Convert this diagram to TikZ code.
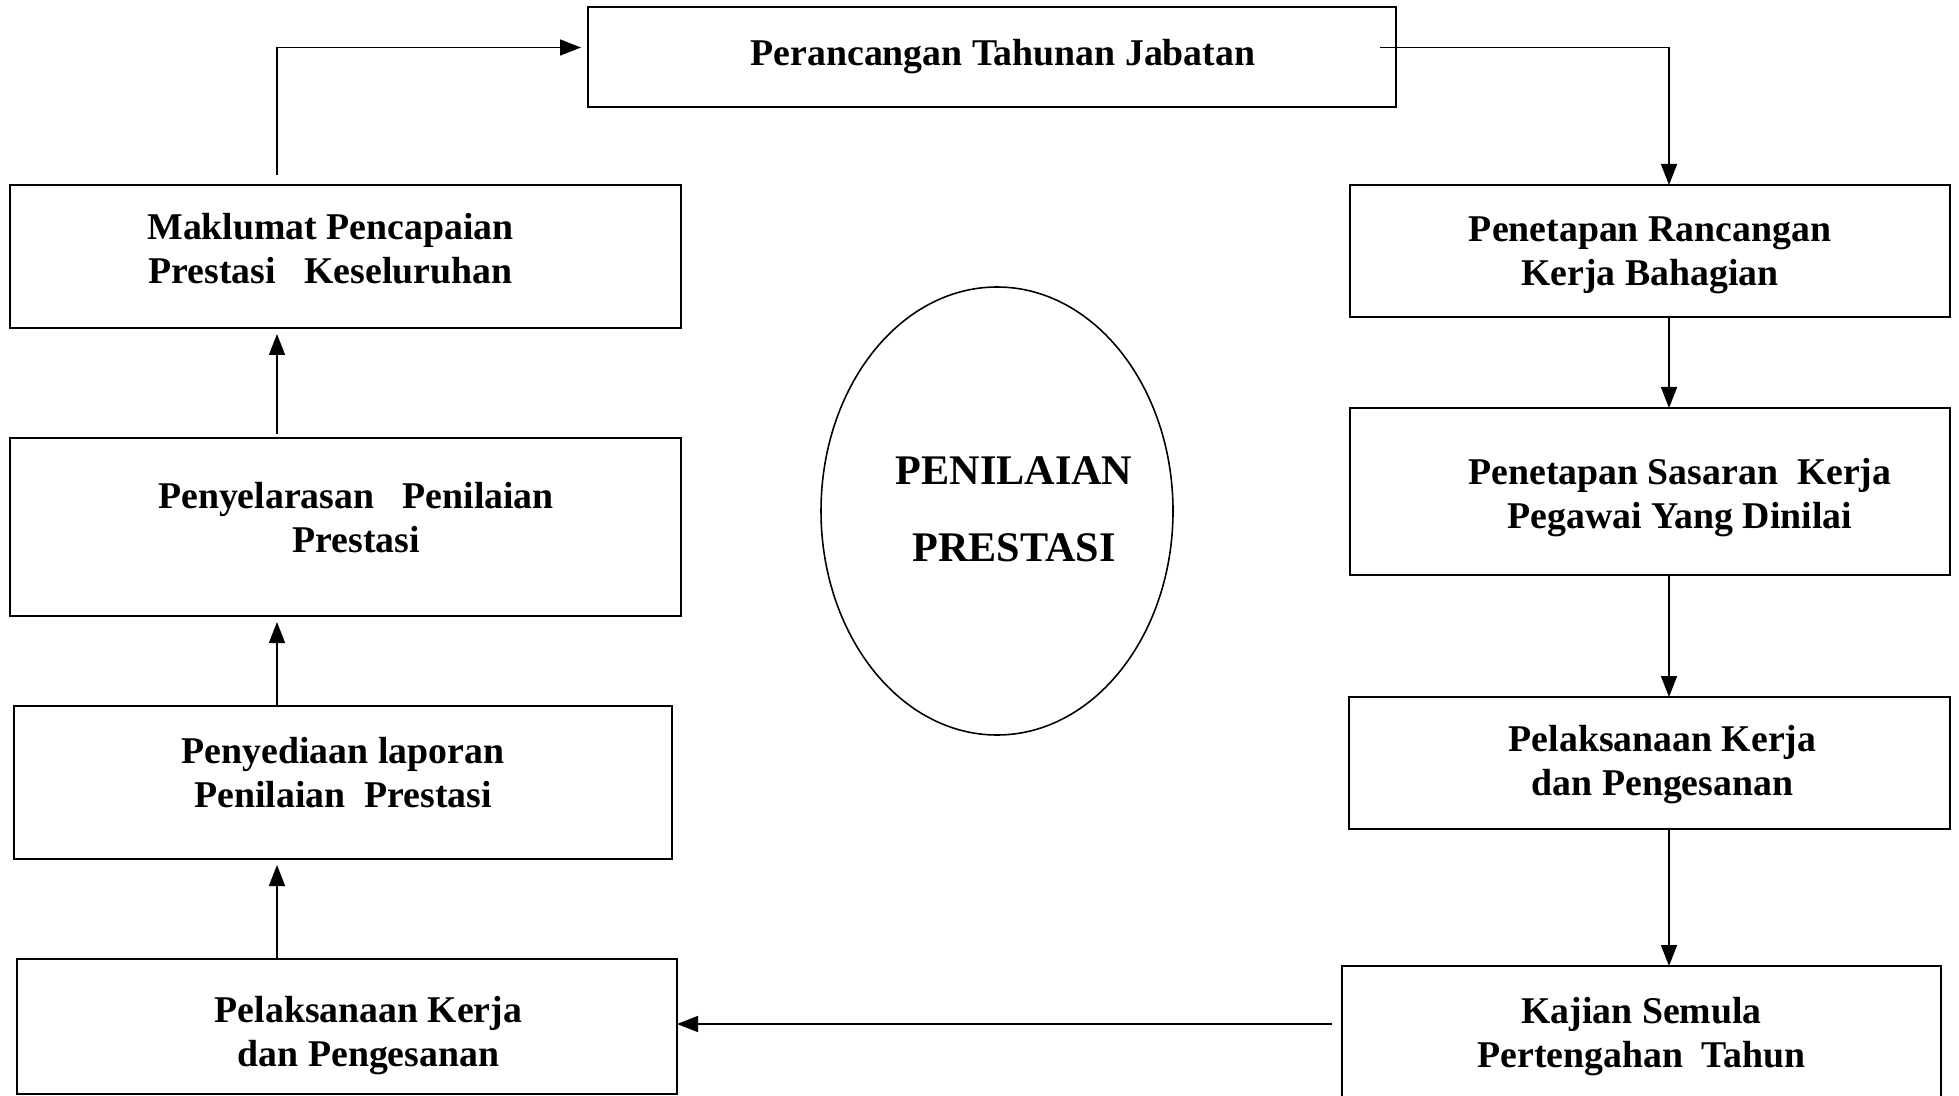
\documentclass[tikz,border=0pt]{standalone}
\usepackage{fontspec}
\setmainfont{Liberation Serif}
\usetikzlibrary{arrows.meta,positioning,shapes.geometric,calc}
\tikzset{
	kotak/.style={draw, line width=1.1pt, outer sep=0, inner sep=0,
		font=\fontsize{21.5}{25}\selectfont\bfseries},
	bulat/.style={draw, ellipse, line width=0.9pt, outer sep=0, inner sep=0,
		font=\fontsize{24}{44}\selectfont\bfseries}
}

\begin{document}
\begin{tikzpicture}[->,>={Triangle[length=0.42cm,width=0.32cm]}, line width=0.9pt]
	\useasboundingbox (0,0) rectangle (39.18,-21.92);
	\node[kotak, line width=1.5pt, minimum width=16.16cm, minimum height=2cm] (tahunan) at (19.84, -1.14) {\begin{tabular}{@{\hspace{0.44cm}}c@{}}
			Perancangan Tahunan Jabatan
	\end{tabular}};
	% lajur kiri
	\node[kotak, minimum width=13.42cm, minimum height=2.86cm] (maklumat) at (6.91, -5.13) {\begin{tabular}{@{}c@{\hspace{0.6cm}}}
			Maklumat Pencapaian \\ Prestasi\ \ \ Keseluruhan \\[0.15cm]
	\end{tabular}};
	\node[kotak, minimum width=13.42cm, minimum height=3.56cm] (selaras) at (6.91, -10.54) {\begin{tabular}{@{\hspace{0.42cm}}c@{}}
			Penyelarasan\ \ \ Penilaian \\ Prestasi \\[0.2cm]
	\end{tabular}};
	\node[kotak, minimum width=13.16cm, minimum height=3.06cm] (laporan) at (6.86, -15.65) {\begin{tabular}{@{}c@{}}
			Penyediaan laporan \\ Penilaian\ \ Prestasi \\[0.25cm]
	\end{tabular}};
	\node[kotak, minimum width=13.2cm, minimum height=2.7cm] (laksanaKiri) at (6.94, -20.53) {\begin{tabular}{@{\hspace{0.86cm}}c@{}}
			\rule{0pt}{0.97cm}Pelaksanaan Kerja \\ dan Pengesanan
	\end{tabular}};
	% lajur kanan
	\node[kotak, minimum width=12cm, minimum height=2.64cm] (rancangan) at (33.0, -5.02) {\begin{tabular}{@{}c@{}}
			\rule{0pt}{0.77cm}Penetapan Rancangan \\ Kerja Bahagian
	\end{tabular}};
	\node[kotak, minimum width=12cm, minimum height=3.34cm] (sasaran) at (33.0, -9.83) {\begin{tabular}{@{\hspace{1.2cm}}c@{}}
			\rule{0pt}{0.87cm}Penetapan Sasaran\ \ Kerja \\ Pegawai Yang Dinilai
	\end{tabular}};
	\node[kotak, minimum width=12.02cm, minimum height=2.64cm] (laksanaKanan) at (32.99, -15.26) {\begin{tabular}{@{\hspace{0.52cm}}c@{}}
			\rule{0pt}{0.67cm}Pelaksanaan Kerja \\ dan Pengesanan
	\end{tabular}};
	\node[kotak, minimum width=11.98cm, minimum height=2.68cm] (kajian) at (32.83, -20.66) {\begin{tabular}{@{}c@{}}
			\rule{0pt}{0.77cm}Kajian Semula \\ Pertengahan\ \ Tahun
	\end{tabular}};
	% tengah
	\node[bulat, minimum width=7.04cm, minimum height=8.96cm] (penilaian) at (19.94, -10.22) {\makebox[0pt]{\hspace{0.68cm}\begin{tabular}{@{}c@{}}
			PENILAIAN \\ PRESTASI \\[0.15cm]
	\end{tabular}}};
	
	\coordinate (kiri) at (5.54, 0);
	\coordinate (kanan) at (33.38, 0);
	\coordinate (bawah) at (26.64, -20.48);
	
	\draw[shorten >=0.12cm] (laksanaKiri.north -| kiri) -- (laporan.south -| kiri);
	\draw[shorten >=0.12cm] (laporan.north -| kiri) -- (selaras.south -| kiri);
	\draw[shorten >=0.12cm] ($(selaras.north -| kiri)+(0,0.08)$) -- (maklumat.south -| kiri);
	\draw[shorten >=0.14cm] ($(maklumat.north -| kiri)+(0,0.2)$) |- ($(tahunan.west)+(0,0.19)$);
	\draw ($(tahunan.east)+(-0.32,0.19)$) -| (rancangan.north -| kanan);
	\draw (rancangan.south -| kanan) -- (sasaran.north -| kanan);
	\draw (sasaran.south -| kanan) -- (laksanaKanan.north -| kanan);
	\draw (laksanaKanan.south -| kanan) -- (kajian.north -| kanan);
	\draw (bawah) -- (bawah -| laksanaKiri.east);
\end{tikzpicture}
\end{document}
